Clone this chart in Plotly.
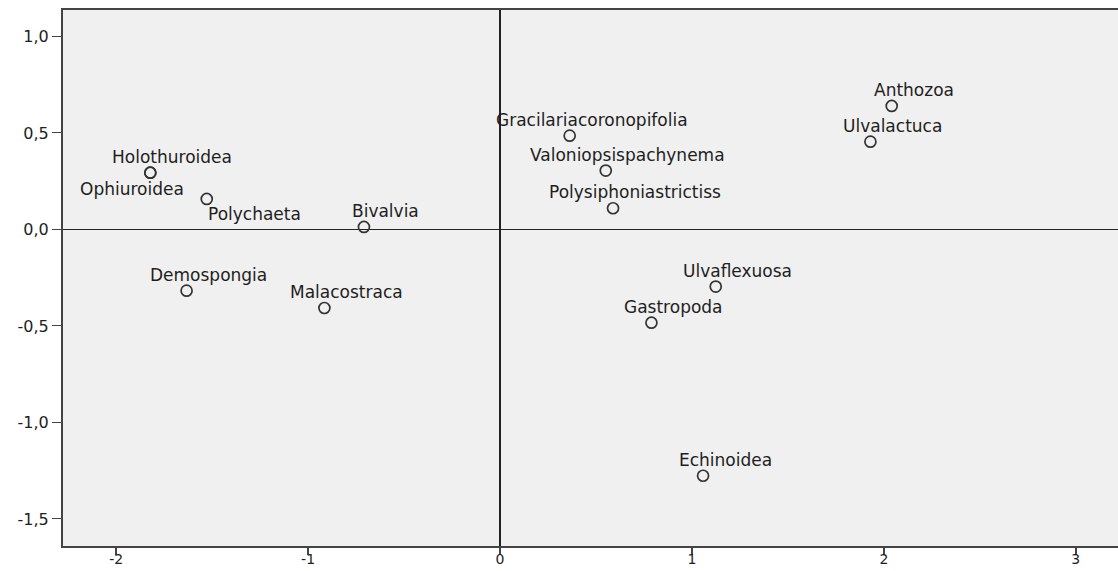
import plotly.graph_objects as go

# Category points (dimension 1, dimension 2)
names = [
    "Anthozoa", "Ulvalactuca", "Gracilariacoronopifolia", "Valoniopsispachynema",
    "Polysiphoniastrictiss", "Ulvaflexuosa", "Gastropoda", "Echinoidea",
    "Holothuroidea", "Ophiuroidea", "Polychaeta", "Bivalvia",
    "Demospongia", "Malacostraca",
]
dim1 = [2.041, 1.930, 0.363, 0.551, 0.589, 1.124, 0.789, 1.058,
        -1.822, -1.822, -1.528, -0.709, -1.633, -0.915]
dim2 = [0.640, 0.455, 0.486, 0.305, 0.110, -0.296, -0.483, -1.276,
        0.294, 0.294, 0.158, 0.013, -0.317, -0.407]

x_ticks = [-2, -1, 0, 1, 2, 3]
x_tick_text = ["-2", "-1", "0", "1", "2", "3"]
y_ticks = [1.0, 0.5, 0.0, -0.5, -1.0, -1.5]
y_tick_text = ["1,0", "0,5", "0,0", "-0,5", "-1,0", "-1,5"]

# label placement (pixel shifts from each point); most sit above-right
default_shift = (22, 16)
label_shift = {
    "Ophiuroidea": (-18, -16),
    "Polychaeta": (48, -15),
}

FONT = "DejaVu Sans"
INK = "#333333"

fig = go.Figure()
fig.add_trace(go.Scatter(
    x=dim1, y=dim2, mode="markers",
    marker=dict(symbol="circle-open", size=11, color=INK, line=dict(width=1.7, color=INK)),
    hoverinfo="skip", showlegend=False,
))

for n, xv, yv in zip(names, dim1, dim2):
    dx, dy = label_shift.get(n, default_shift)
    fig.add_annotation(
        x=xv, y=yv, text=n, showarrow=False,
        xanchor="center", yanchor="middle", xshift=dx, yshift=dy,
        font=dict(family=FONT, size=17, color="#1e1e1e"),
    )

fig.update_layout(
    width=1118, height=571,
    margin=dict(l=63, r=0, t=10, b=25),
    paper_bgcolor="white", plot_bgcolor="#F0F0F0",
    xaxis=dict(
        range=[-2.277, 3.22], tickvals=x_ticks, ticktext=x_tick_text,
        automargin=False, ticklabelstandoff=-8,
        showgrid=False, zeroline=True, zerolinecolor="#222222", zerolinewidth=2,
        showline=True, linecolor="#444444", linewidth=1.5, mirror=True,
        ticks="outside", ticklen=7, tickwidth=2, tickcolor="#444444",
        tickfont=dict(family=FONT, size=14, color="#1e1e1e"),
    ),
    yaxis=dict(
        range=[-1.640, 1.137], tickvals=y_ticks, ticktext=y_tick_text,
        automargin=False,
        showgrid=False, zeroline=True, zerolinecolor="#222222", zerolinewidth=1.3,
        showline=True, linecolor="#444444", linewidth=2,
        ticks="outside", ticklen=9, tickwidth=1.3, tickcolor="#444444",
        tickfont=dict(family=FONT, size=16, color="#1e1e1e"),
    ),
)

fig.write_html("out.html")
